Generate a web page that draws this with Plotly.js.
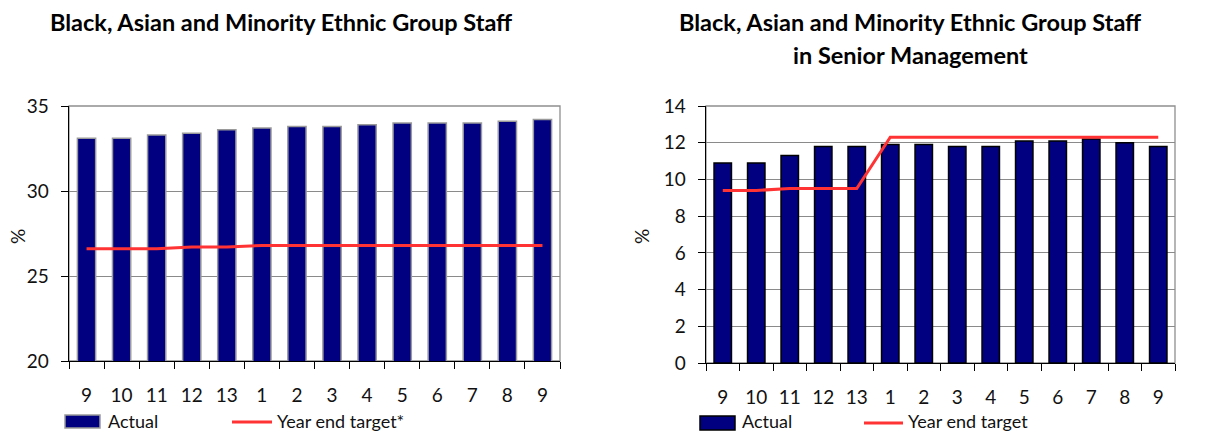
<!DOCTYPE html>
<html>
<head>
<meta charset="utf-8">
<script src="https://cdn.plot.ly/plotly-3.0.1.min.js"></script>
<style>
  html, body { margin: 0; padding: 0; background: #fff; }
  #chart { width: 1212px; height: 433px; }
</style>
</head>
<body>
<div id="chart"></div>
<script>
// Reporting periods (month numbers) shown along both x axes
const months = ["9", "10", "11", "12", "13", "1", "2", "3", "4", "5", "6", "7", "8", "9"];

// All BAME staff, % of workforce
const bameActual = [33.1, 33.1, 33.3, 33.4, 33.6, 33.7, 33.8, 33.8, 33.9, 34.0, 34.0, 34.0, 34.1, 34.2];
const bameTarget = [26.6, 26.6, 26.6, 26.7, 26.7, 26.8, 26.8, 26.8, 26.8, 26.8, 26.8, 26.8, 26.8, 26.8];

// BAME staff in senior management, %
const seniorActual = [10.9, 10.9, 11.3, 11.8, 11.8, 11.9, 11.9, 11.8, 11.8, 12.1, 12.1, 12.2, 12.0, 11.8];
const seniorTarget = [9.4, 9.4, 9.5, 9.5, 9.5, 12.3, 12.3, 12.3, 12.3, 12.3, 12.3, 12.3, 12.3, 12.3];

const idx = months.map((_, i) => i);
const FONT = "Lato, 'Noto Sans', sans-serif";
const NAVY = "#000080";
const RED = "#ff3333";

const traces = [
  { type: "bar", name: "Actual", x: idx, y: bameActual, xaxis: "x", yaxis: "y",
    marker: { color: NAVY, line: { color: "#9a9a9a", width: 1.5 } }, showlegend: false },
  { type: "scatter", mode: "lines", name: "Year end target*", x: idx, y: bameTarget, xaxis: "x", yaxis: "y",
    line: { color: RED, width: 3 }, showlegend: false },
  { type: "bar", name: "Actual", x: idx, y: seniorActual, xaxis: "x2", yaxis: "y2",
    marker: { color: NAVY, line: { color: "#000", width: 1.5 } }, showlegend: false },
  { type: "scatter", mode: "lines", name: "Year end target", x: idx, y: seniorTarget, xaxis: "x2", yaxis: "y2",
    line: { color: RED, width: 3 }, showlegend: false }
];

function xAxis(domain, anchor) {
  return {
    domain: domain, anchor: anchor, range: [-0.5, 13.5], fixedrange: true,
    tickmode: "array", tickvals: idx, ticktext: months, ticks: "", ticklabelstandoff: 17,
    showgrid: false, zeroline: false, showline: true, linecolor: "#000", linewidth: 1.3,
    tickfont: { family: FONT, size: 19, color: "#111" },
    minor: { tick0: -0.5, dtick: 1, ticks: "outside", ticklen: 7, tickwidth: 1, tickcolor: "#000", showgrid: false }
  };
}
function yAxis(domain, anchor, range, dtick) {
  return {
    domain: domain, anchor: anchor, range: range, dtick: dtick, fixedrange: true,
    ticks: "outside", ticklen: 7, tickwidth: 1, tickcolor: "#000", ticklabelstandoff: 8,
    showgrid: true, gridcolor: "#8a8a8a", gridwidth: 1, zeroline: false,
    showline: true, linecolor: "#000", linewidth: 1.3,
    tickfont: { family: FONT, size: 19, color: "#111" }
  };
}

// Plot frames: grey border on top/right, drawn under the black axis lines
function frame(xr, yr) {
  return { type: "rect", xref: xr + " domain", yref: yr + " domain", x0: 0, x1: 1, y0: 0, y1: 1,
           line: { color: "#8f8f8f", width: 1.3 }, layer: "below" };
}

// Legend swatches (paper coordinates)
function px(x) { return x / 1212; }
function py(y) { return 1 - y / 433; }
const legendShapes = [
  { type: "rect", xref: "paper", yref: "paper", x0: px(65), x1: px(100), y0: py(428), y1: py(415),
    fillcolor: NAVY, line: { color: "#9a9a9a", width: 1.5 } },
  { type: "line", xref: "paper", yref: "paper", x0: px(232), x1: px(272), y0: py(422), y1: py(422),
    line: { color: RED, width: 3 } },
  { type: "rect", xref: "paper", yref: "paper", x0: px(700), x1: px(735), y0: py(430), y1: py(416),
    fillcolor: NAVY, line: { color: "#000", width: 1.5 } },
  { type: "line", xref: "paper", yref: "paper", x0: px(864), x1: px(903), y0: py(423), y1: py(423),
    line: { color: RED, width: 3 } }
];

function label(text, x, y, opts) {
  return Object.assign({ text: text, xref: "paper", yref: "paper", x: px(x), y: py(y),
    showarrow: false, xanchor: "left", yanchor: "middle",
    font: { family: FONT, size: 19, color: "#111" } }, opts || {});
}

const titleFont = { family: FONT, size: 23.5, color: "#000", weight: "bold" };
const legendFont = { family: FONT, size: 18, color: "#111" };
const annotations = [
  label("<b>Black, Asian and Minority Ethnic Group Staff</b>", 281, 22, { xanchor: "center", font: titleFont }),
  label("<b>Black, Asian and Minority Ethnic Group Staff</b>", 910, 22, { xanchor: "center", font: titleFont }),
  label("<b>in Senior Management</b>", 910, 55, { xanchor: "center", font: titleFont }),
  label("%", 17, 237, { xanchor: "center", textangle: -90 }),
  label("%", 641, 237, { xanchor: "center", textangle: -90 }),
  label("Actual", 106, 421, { font: legendFont }),
  label("Year end target*", 275, 421, { font: legendFont }),
  label("Actual", 740, 421, { font: legendFont }),
  label("Year end target", 906, 421, { font: legendFont })
];

const layout = {
  width: 1212, height: 433,
  margin: { l: 0, r: 0, t: 0, b: 0 },
  paper_bgcolor: "#fff", plot_bgcolor: "#fff",
  bargap: 0.48,
  showlegend: false,
  xaxis: xAxis([69 / 1212, 560 / 1212], "y"),
  yaxis: yAxis([1 - 361 / 433, 1 - 106 / 433], "x", [20, 35], 5),
  xaxis2: xAxis([706 / 1212, 1175 / 1212], "y2"),
  yaxis2: yAxis([1 - 363 / 433, 1 - 106 / 433], "x2", [0, 14], 2),
  shapes: [frame("x", "y"), frame("x2", "y2")].concat(legendShapes),
  annotations: annotations
};

Plotly.newPlot("chart", traces, layout, { staticPlot: true, displayModeBar: false });
</script>
</body>
</html>
